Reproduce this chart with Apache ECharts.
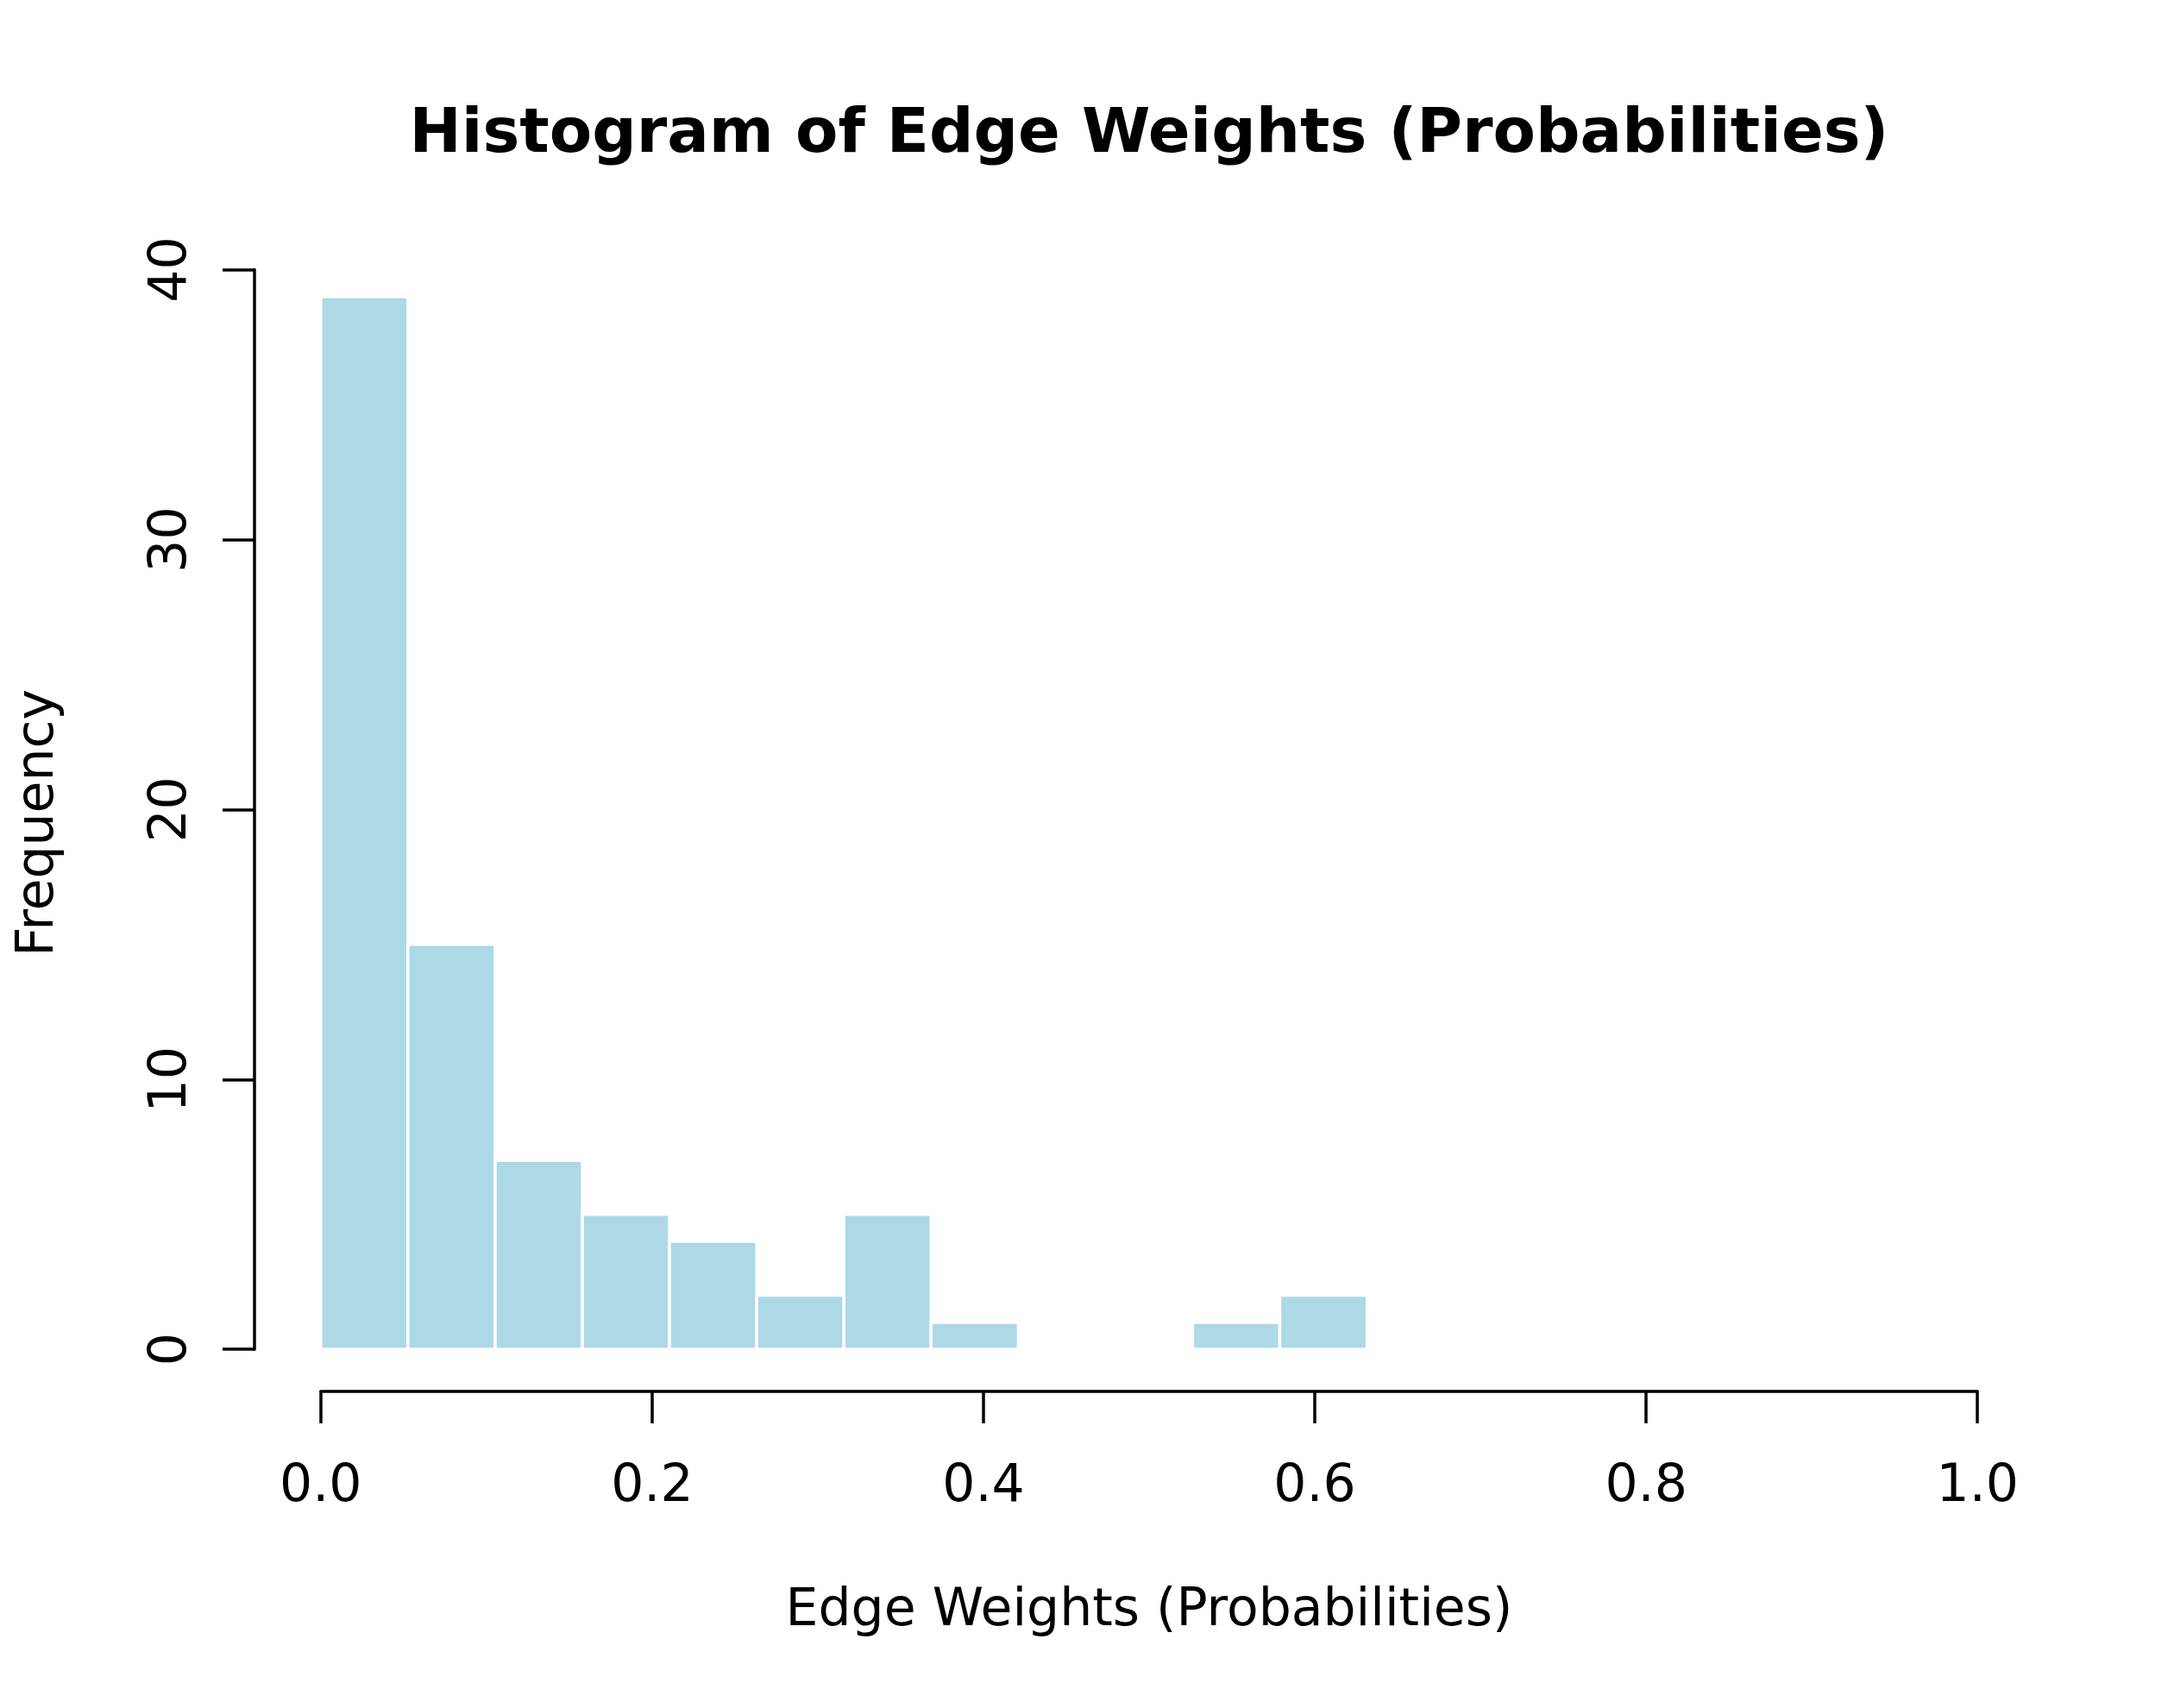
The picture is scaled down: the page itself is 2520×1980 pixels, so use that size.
<!DOCTYPE html>
<html>
<head>
<meta charset="utf-8">
<script src="https://cdn.jsdelivr.net/npm/echarts@6/dist/echarts.min.js"></script>
<style>
html,body{margin:0;padding:0;background:#fff;}
#chart{width:2520px;height:1980px;}
</style>
</head>
<body>
<div id="chart"></div>
<script>
// Histogram bin edges and counts
const binEdges = [0, 0.0526, 0.1053, 0.1579, 0.2105, 0.2632, 0.3158, 0.3684, 0.4211, 0.4737, 0.5263, 0.5789, 0.6316];
const counts = [39, 15, 7, 5, 4, 2, 5, 1, 0, 0, 1, 2];
const xTicks = [0, 0.2, 0.4, 0.6, 0.8, 1.0];
const yTicks = [0, 10, 20, 30, 40];
const titleText = 'Histogram of Edge Weights (Probabilities)';
const xLabel = 'Edge Weights (Probabilities)';
const yLabel = 'Frequency';

const data = counts.map((c, i) => [binEdges[i], binEdges[i + 1], c]);
const FONT = 'DejaVu Sans';

const chart = echarts.init(document.getElementById('chart'), null, {renderer: 'canvas'});
chart.setOption({
  animation: false,
  backgroundColor: '#ffffff',
  title: {
    text: titleText,
    left: 1327,
    textAlign: 'center',
    top: 116,
    textStyle: {fontFamily: FONT, fontSize: 72, fontWeight: 'bold', color: '#000'}
  },
  grid: {left: 371.8, right: 227.8, top: 312.6, bottom: 415.8, containLabel: false},
  xAxis: {
    type: 'value', min: xTicks[0], max: xTicks[xTicks.length - 1], interval: 0.2,
    offset: 48.8,
    name: xLabel, nameLocation: 'middle', nameGap: 225,
    nameTextStyle: {fontFamily: FONT, fontSize: 60, color: '#000'},
    axisLine: {show: true, onZero: false, lineStyle: {color: '#000', width: 3.5}},
    axisTick: {show: true, length: 37, lineStyle: {color: '#000', width: 3.5}},
    axisLabel: {fontFamily: FONT, fontSize: 60, color: '#000', margin: 81,
      formatter: v => v.toFixed(1)},
    splitLine: {show: false}
  },
  yAxis: {
    type: 'value', min: yTicks[0], max: yTicks[yTicks.length - 1], interval: 10,
    offset: 76.8,
    axisLine: {show: true, onZero: false, lineStyle: {color: '#000', width: 3.5}},
    axisTick: {show: true, length: 37, lineStyle: {color: '#000', width: 3.5}},
    axisLabel: {fontFamily: FONT, fontSize: 60, color: '#000', margin: 66, rotate: 90},
    splitLine: {show: false}
  },
  graphic: [{
    type: 'text',
    x: 45, y: 954,
    rotation: Math.PI / 2,
    style: {text: yLabel, fontFamily: FONT, fontSize: 60, fill: '#000',
      textAlign: 'center', textVerticalAlign: 'middle'}
  }],
  series: [{
    type: 'custom',
    data: data,
    encode: {x: [0, 1], y: 2},
    renderItem: function (params, api) {
      if (api.value(2) === 0) return null;
      const p0 = api.coord([api.value(0), api.value(2)]);
      const p1 = api.coord([api.value(1), 0]);
      return {
        type: 'rect',
        shape: {x: p0[0], y: p0[1], width: p1[0] - p0[0], height: p1[1] - p0[1]},
        style: {fill: '#ADD8E6', stroke: '#ffffff', lineWidth: 3.5}
      };
    }
  }]
});
</script>
</body>
</html>
